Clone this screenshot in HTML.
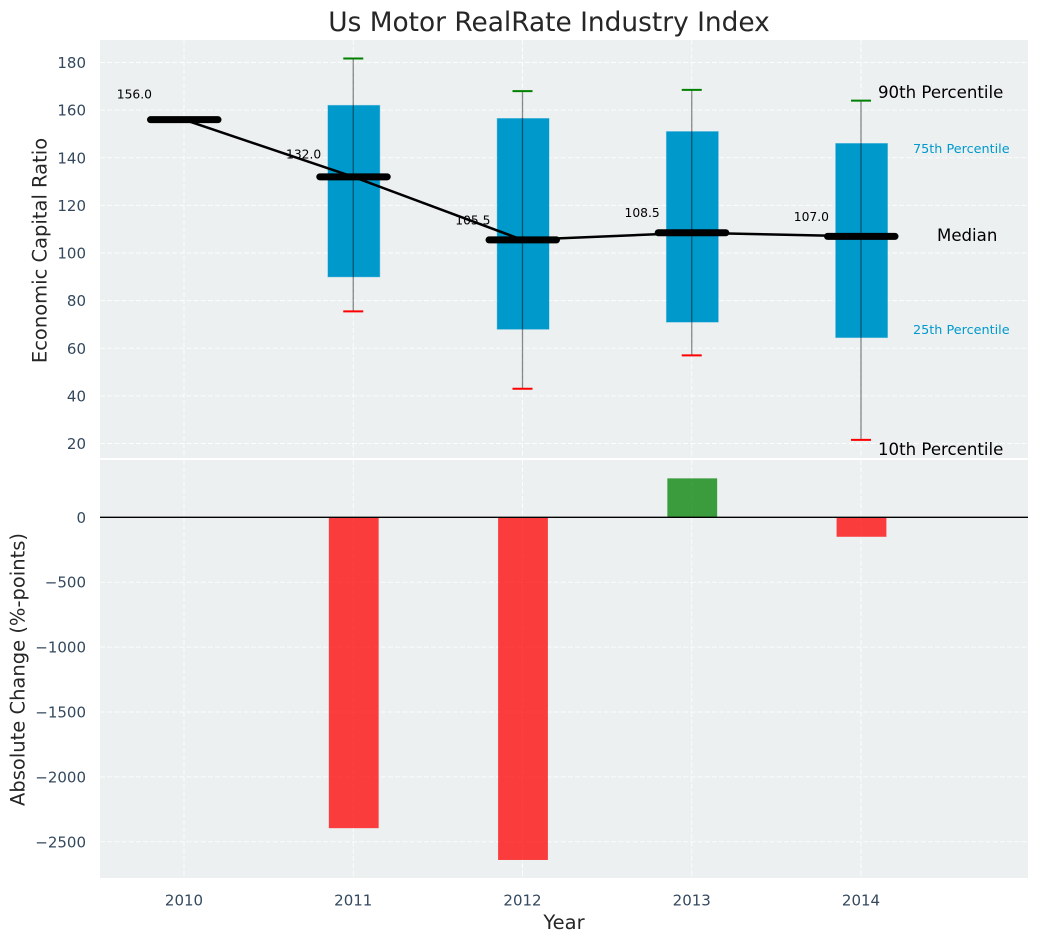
<!DOCTYPE html>
<html>
<head>
<meta charset="utf-8">
<title>Us Motor RealRate Industry Index</title>
<style>
html,body{margin:0;padding:0;background:#fff;width:1039px;height:942px;overflow:hidden}
svg{display:block;font-family:"DejaVu Sans","Liberation Sans",sans-serif}
</style>
</head>
<body>
<svg id="chart" xmlns="http://www.w3.org/2000/svg" width="1039" height="942" viewBox="0 0 1039 942">
  <rect x="100" y="40" width="928" height="418" fill="#ecf0f1"/>
  <rect x="100" y="460" width="928" height="418" fill="#ecf0f1"/>
  <g id="grid"></g>
  <g id="boxes"></g>
  <g id="bars"></g>
  <g id="ticks"></g>
  <text x="549" y="31" text-anchor="middle" font-size="26.4" fill="#262626">Us Motor RealRate Industry Index</text>
  <text transform="translate(46.5,250.5) rotate(-90)" text-anchor="middle" font-size="19.5" fill="#262626">Economic Capital Ratio</text>
  <text transform="translate(24.5,669.5) rotate(-90)" text-anchor="middle" font-size="19.5" fill="#262626">Absolute Change (%-points)</text>
  <text x="564" y="929" text-anchor="middle" font-size="19.5" fill="#262626">Year</text>
  <text x="878" y="98" font-size="16.6" fill="#000">90th Percentile</text>
  <text x="913" y="153" font-size="12.8" fill="#0099cc">75th Percentile</text>
  <text x="937" y="241" font-size="16.6" fill="#000">Median</text>
  <text x="913" y="334" font-size="12.8" fill="#0099cc">25th Percentile</text>
  <text x="878" y="455" font-size="16.6" fill="#000">10th Percentile</text>
</svg>
<script>
var years = [2010, 2011, 2012, 2013, 2014];
var medians = [156.0, 132.0, 105.5, 108.5, 107.0];
var p90 = [null, 181.7, 168, 168.5, 164];
var p75 = [null, 162, 156.5, 151, 146];
var p25 = [null, 90, 68, 71, 64.5];
var p10 = [null, 75.5, 43, 57, 21.5];
var changes = [null, -2395, -2640, 300, -150];
var topTicks = [20, 40, 60, 80, 100, 120, 140, 160, 180];
var bottomTicks = [-2500, -2000, -1500, -1000, -500, 0];

function xPos(year) { return 184 + (year - 2010) * 169.25; }
function yTop(v) { return 443.5 - (v - 20) * 2.381; }
function yBottom(v) { return 517.3 - v * 0.1298; }

var SVG_NS = 'http://www.w3.org/2000/svg';
function make(parent, tag, attrs) {
  var el = document.createElementNS(SVG_NS, tag);
  for (var k in attrs) { el.setAttribute(k, attrs[k]); }
  parent.appendChild(el);
  return el;
}

var grid = document.getElementById('grid');
var boxes = document.getElementById('boxes');
var bars = document.getElementById('bars');
var ticks = document.getElementById('ticks');
var gridStyle = { stroke: '#fff', 'stroke-width': 1, 'stroke-dasharray': '5 2.2', 'stroke-opacity': 0.85 };

function gridLine(x1, y1, x2, y2) {
  var line = make(grid, 'line', { x1: x1, y1: y1, x2: x2, y2: y2, stroke: gridStyle.stroke, 'stroke-width': gridStyle['stroke-width'], 'stroke-dasharray': gridStyle['stroke-dasharray'], 'stroke-opacity': gridStyle['stroke-opacity'] });
  
  
}

years.forEach(function (yr) {
  gridLine(xPos(yr), 40, xPos(yr), 458);
  gridLine(xPos(yr), 460, xPos(yr), 878);
  var t = make(ticks, 'text', { x: xPos(yr), y: 905.5, 'text-anchor': 'middle', 'font-size': 15, fill: '#34495e' });
  t.textContent = String(yr);
  
  
});

topTicks.forEach(function (v) {
  gridLine(100, yTop(v), 1028, yTop(v));
  var t = make(ticks, 'text', { x: 86, y: yTop(v) + 5.5, 'text-anchor': 'end', 'font-size': 15, fill: '#34495e' });
  t.textContent = String(v);
  
  
});

bottomTicks.forEach(function (v) {
  gridLine(100, yBottom(v), 1028, yBottom(v));
  var t = make(ticks, 'text', { x: 86, y: yBottom(v) + 5.5, 'text-anchor': 'end', 'font-size': 15, fill: '#34495e' });
  t.textContent = String(v).replace('-', '\u2212');
  
  
});

years.forEach(function (yr, i) {
  if (p75[i] === null) { return; }
  var x = xPos(yr);
  var box = make(boxes, 'rect', { x: x - 25.3, y: yTop(p75[i]), width: 51.8, height: yTop(p25[i]) - yTop(p75[i]), fill: '#0099cc', stroke: '#0099cc', 'stroke-opacity': 0.4, 'stroke-width': 1 });
  
  
  var whisker = make(boxes, 'line', { x1: x, y1: yTop(p90[i]), x2: x, y2: yTop(p10[i]), stroke: '#000', 'stroke-opacity': 0.45, 'stroke-width': 1.3 });
  
  
  var capHigh = make(boxes, 'line', { x1: x - 10, y1: yTop(p90[i]), x2: x + 10, y2: yTop(p90[i]), stroke: '#008000', 'stroke-width': 2 });
  
  
  var capLow = make(boxes, 'line', { x1: x - 10, y1: yTop(p10[i]), x2: x + 10, y2: yTop(p10[i]), stroke: '#ff0000', 'stroke-width': 2 });
  
  
});

var pts = years.map(function (yr, i) { return xPos(yr) + ',' + yTop(medians[i]); }).join(' ');
var medianLine = make(boxes, 'polyline', { points: pts, fill: 'none', stroke: '#000', 'stroke-width': 2.5 });



years.forEach(function (yr, i) {
  var x = xPos(yr);
  var y = yTop(medians[i]);
  var m = make(boxes, 'line', { x1: x - 33.5, y1: y, x2: x + 34, y2: y, stroke: '#000', 'stroke-width': 7, 'stroke-linecap': 'round' });
  
  
  var t = make(boxes, 'text', { x: x - 32, y: yTop(medians[i] * 1.05 + 3) + 4.3, 'text-anchor': 'end', 'font-size': 12.3, fill: '#000' });
  t.textContent = medians[i].toFixed(1);
  
  
});

years.forEach(function (yr, i) {
  if (changes[i] === null) { return; }
  var x = xPos(yr);
  var y0 = yBottom(0);
  var y1 = yBottom(changes[i]);
  var bar = make(bars, 'rect', { x: x - 24.4, y: Math.min(y0, y1), width: 49.8, height: Math.abs(y1 - y0), fill: changes[i] < 0 ? '#ff0000' : '#008000', 'fill-opacity': 0.75 });
  
  
});

var zero = make(bars, 'line', { x1: 100, y1: yBottom(0), x2: 1028, y2: yBottom(0), stroke: '#000', 'stroke-width': 1.4 });


</script>
</body>
</html>
